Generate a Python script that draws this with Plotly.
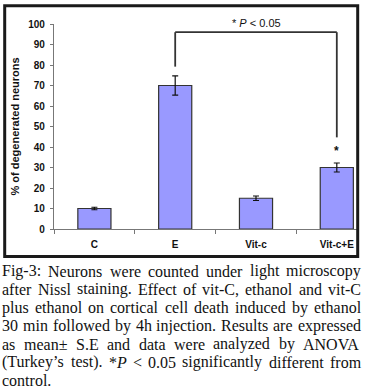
import plotly.graph_objects as go

# ---- data ----
categories = ["C", "E", "Vit-c", "Vit-c+E"]
means = [10, 70, 15, 30]
errors = [0.6, 4.7, 1.1, 2.2]
y_ticks = list(range(0, 101, 10))
y_title = "% of degenerated neurons"
sig_label = "* <i>P</i> &lt; 0.05"
caption_lines = [
    "Fig-3: Neurons were counted under light microscopy",
    "after Nissl staining. Effect of vit-C, ethanol and vit-C",
    "plus ethanol on cortical cell death induced by ethanol",
    "30 min followed by 4h injection. Results are expressed",
    "as mean\u00b1 S.E and data were analyzed by ANOVA",
    "(Turkey\u2019s test). *P < 0.05 significantly different from",
    "control.",
]

W, H = 365, 388
L, R, T, B = 54, 8, 24, 159
PW, PH = W - L - R, H - T - B


def px(x):
    return (x - L) / PW


def py(y):
    return (H - B - y) / PH


# Times / Liberation Serif advance widths (1/1000 em)
TW = {' ': 250, 'a': 444, 'b': 500, 'c': 444, 'd': 500, 'e': 444, 'f': 333, 'g': 500,
      'h': 500, 'i': 278, 'j': 278, 'k': 500, 'l': 278, 'm': 778, 'n': 500, 'o': 500,
      'p': 500, 'q': 500, 'r': 333, 's': 389, 't': 278, 'u': 500, 'v': 500, 'w': 722,
      'x': 500, 'y': 500, 'z': 444, 'A': 722, 'B': 667, 'C': 667, 'D': 722, 'E': 611,
      'F': 556, 'G': 722, 'H': 722, 'I': 333, 'N': 722, 'O': 722, 'P': 611, 'R': 667,
      'S': 556, 'T': 611, 'V': 722, '-': 333, ':': 278, '.': 250, ',': 250, '(': 333,
      ')': 333, '*': 500, '<': 564, '\u00b1': 564, '\u2019': 333}
for d in "0123456789":
    TW[d] = 500


def word_w(w, fs):
    return sum(TW.get(ch, 500) for ch in w) * fs / 1000.0


def fmt_word(w):
    w = w.replace("<", "&lt;")
    if w == "*P":
        return "*<i>P</i>"
    return w


fig = go.Figure()
fig.add_trace(go.Bar(
    x=categories, y=means, width=0.41,
    marker=dict(color="#9999FF", line=dict(color="#333333", width=1.2)),
    error_y=dict(type="data", array=errors, visible=True, color="#111111",
                 thickness=1.2, width=3),
    showlegend=False,
))

axfont = dict(family="Liberation Sans, Arial", size=10, color="#111111")

fig.update_layout(
    width=W, height=H,
    margin=dict(l=L, r=R, t=T, b=B, pad=0),
    paper_bgcolor="white", plot_bgcolor="white",
    xaxis=dict(type="category", range=[-0.5, 3.25], tickson="boundaries",
               ticks="outside", ticklen=4, tickcolor="#777777",
               showline=True, linecolor="#777777", linewidth=1.2,
               showgrid=False, tickfont=axfont, ticklabelstandoff=6,
               tickmode="array", tickvals=categories,
               ticktext=["<b>%s</b>" % c for c in categories]),
    yaxis=dict(range=[0, 100], tickmode="array", tickvals=y_ticks,
               ticktext=["<b>%d</b>" % v for v in y_ticks],
               ticks="outside", ticklen=3, tickcolor="#777777",
               showline=True, linecolor="#777777", linewidth=1.2,
               showgrid=False, zeroline=False, tickfont=axfont,
               ticklabelstandoff=3),
    font=dict(family="Liberation Sans, Arial"),
)

# y axis title
fig.add_annotation(xref="paper", yref="paper", x=px(14), y=0.5,
                   text="<b>%s</b>" % y_title, textangle=-90, showarrow=False,
                   font=dict(family="Liberation Sans, Arial", size=11, color="#111"),
                   xanchor="center", yanchor="middle")

# significance bracket
e_idx, v_idx = 1, 3
bracket_top = 96
left_start = means[e_idx] + errors[e_idx] + 4.5
right_end = means[v_idx] + errors[v_idx] + 12.5
lc = dict(color="#333333", width=1.8)
fig.add_shape(type="line", xref="x", yref="y", x0=e_idx, x1=e_idx,
              y0=left_start, y1=bracket_top, line=lc)
fig.add_shape(type="line", xref="x", yref="y", x0=e_idx, x1=v_idx,
              y0=bracket_top, y1=bracket_top, line=lc)
fig.add_shape(type="line", xref="x", yref="y", x0=v_idx, x1=v_idx,
              y0=bracket_top, y1=right_end, line=lc)
fig.add_annotation(xref="x", yref="paper", x=(e_idx + v_idx) / 2, y=py(22.7),
                   text=sig_label, showarrow=False,
                   font=dict(family="Liberation Sans, Arial", size=11, color="#111"),
                   xanchor="center", yanchor="middle")
fig.add_annotation(xref="x", yref="y", x=v_idx, y=means[v_idx] + errors[v_idx] + 5.8,
                   text="<b>*</b>", showarrow=False,
                   font=dict(family="Liberation Sans, Arial", size=12, color="#111"),
                   xanchor="center", yanchor="middle")

# caption, justified word by word
fs = 16
x_left, x_right = 2.0, 361.0
base0, step = 276.7, 18.2
for i, line in enumerate(caption_lines):
    words = line.split()
    widths = [word_w(w, fs) for w in words]
    if i < len(caption_lines) - 1 and len(words) > 1:
        gap = (x_right - x_left - sum(widths)) / (len(words) - 1)
    else:
        gap = TW[' '] * fs / 1000.0
    xcur = x_left
    yc = base0 + i * step - 5.5
    for w, ww in zip(words, widths):
        fig.add_annotation(xref="paper", yref="paper", x=px(xcur - 1), y=py(yc),
                           text=fmt_word(w), showarrow=False, xanchor="left",
                           yanchor="middle", borderpad=0,
                           font=dict(family="Liberation Serif, serif", size=fs,
                                     color="#111"))
        xcur += ww + gap

# outer frame around the chart panel
fig.add_shape(type="rect", xref="paper", yref="paper",
              x0=px(4.7), x1=px(357.7), y0=py(256.5), y1=py(5.7),
              line=dict(color="#1a1a1a", width=3))

fig.write_html("out.html", config={"displayModeBar": False},
               post_script="document.body.style.margin='0px';document.body.style.padding='0px';")
